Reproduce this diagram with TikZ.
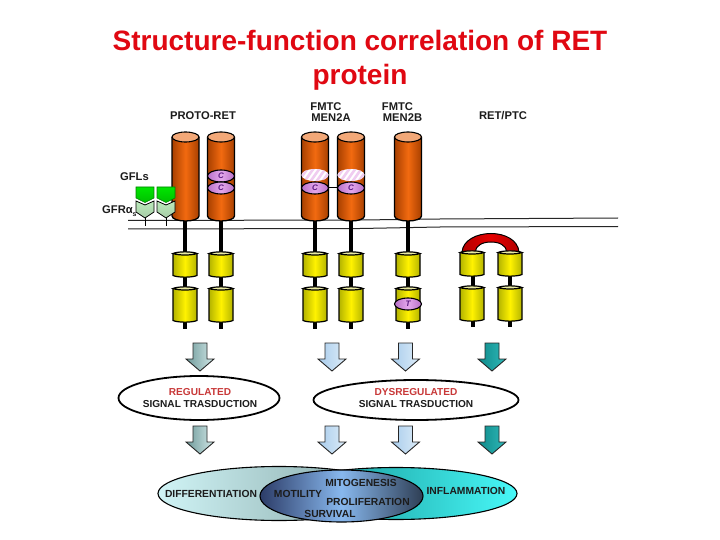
\documentclass[tikz,border=0pt]{standalone}
\usepackage{fontspec}
\setmainfont{Liberation Sans}
\usetikzlibrary{calc,shapes.geometric}
\definecolor{titlered}{HTML}{E00812}
\definecolor{lab}{HTML}{1C1C1C}
\definecolor{orD}{HTML}{A84000}
\definecolor{orM}{HTML}{F26A10}
\definecolor{orT}{HTML}{F2A878}
\definecolor{yeD}{HTML}{B4B400}
\definecolor{yeM}{HTML}{FFF200}
\definecolor{yeT}{HTML}{E8E8A0}
\definecolor{puD}{HTML}{B870C8}
\definecolor{puM}{HTML}{E4A8EC}
\definecolor{puL}{HTML}{5A1A80}
\definecolor{hatchc}{HTML}{F0CCF0}
\definecolor{arA}{HTML}{6F9A9A}\definecolor{arB}{HTML}{D2E8E8}
\definecolor{blA}{HTML}{A8CCEC}\definecolor{blB}{HTML}{DDECF8}
\definecolor{tlA}{HTML}{0E8A8A}\definecolor{tlB}{HTML}{2FB8B8}
\definecolor{lfA}{HTML}{D0F4F6}\definecolor{lfB}{HTML}{7F9F9F}
\definecolor{rtA}{HTML}{0E8888}\definecolor{rtB}{HTML}{48F8F8}
\definecolor{miA}{HTML}{2C3C68}\definecolor{miM}{HTML}{88B8EE}\definecolor{miB}{HTML}{2E3E54}
\definecolor{regred}{HTML}{C83838}
\tikzset{
  x=1pt,y=-1pt,
  lbl/.style={font=\bfseries\fontsize{10.3}{11}\selectfont,text=lab,inner sep=0pt},
  toplbl/.style={font=\bfseries\fontsize{11.2}{12}\selectfont,text=lab,inner sep=0pt},
  siglbl/.style={font=\bfseries\fontsize{10.1}{11}\selectfont,text=lab,inner sep=0pt},
  ovlbl/.style={font=\bfseries\itshape\fontsize{8}{9}\selectfont,text=puL,inner sep=0pt},
  titletext/.style={font=\bfseries\fontsize{28}{34}\selectfont,align=center,inner sep=0pt},
  stem/.style={line width=4pt,black},
  outl/.style={draw=black,line width=1.3pt},
  membrane/.style={line width=1pt,black!85},
  sigell/.style={draw=black,line width=1.8pt,fill=white,ellipse,inner sep=0pt},
  ellipse2/.style={ellipse,minimum width=27pt,minimum height=12pt,inner sep=0pt},
  captop/.style={ellipse,draw=black,line width=1.1pt,fill=orT,inner sep=0pt,minimum width=27pt,minimum height=10pt},
}
\newcommand{\orangecyl}[2]{%
  \path[left color=orD,right color=orD,middle color=orM]
    (#2-13.5,136) -- (#2-13.5,216) .. controls (#2-13.5,219) and (#2-7,221) .. (#2,221)
    .. controls (#2+7,221) and (#2+13.5,219) .. (#2+13.5,216) -- (#2+13.5,136) -- cycle;
  \draw[outl] (#2-13.5,137) -- (#2-13.5,216) .. controls (#2-13.5,219) and (#2-7,221) .. (#2,221)
    .. controls (#2+7,221) and (#2+13.5,219) .. (#2+13.5,216) -- (#2+13.5,137);
  \node[captop] (#1) at (#2,137) {};
}
\newcommand{\yellowcyl}[3]{%
  \path[left color=yeD,right color=yeD,middle color=yeM]
    (#1-12,#2+1.5) -- (#1-12,#3-1.5) .. controls (#1-7,#3+.7) and (#1+7,#3+.7) .. (#1+12,#3-1.5) -- (#1+12,#2+1.5) -- cycle;
  \draw[black,line width=1.2pt,fill=yeT] (#1-12,#2+1.5) .. controls (#1-7,#2-.7) and (#1+7,#2-.7) .. (#1+12,#2+1.5)
    .. controls (#1+7,#2+3.5) and (#1-7,#2+3.5) .. cycle;
  \draw[black,line width=1.2pt] (#1-12,#2+1.5) -- (#1-12,#3-1.5) .. controls (#1-7,#3+.7) and (#1+7,#3+.7) .. (#1+12,#3-1.5) -- (#1+12,#2+1.5);
}
\newcommand{\downarr}[4]{%
  \path[draw=black!85,line width=.9pt,left color=#3,right color=#4]
    (#1-7,#2) -- (#1+7,#2) -- (#1+7,#2+16) -- (#1+14,#2+16) -- (#1,#2+28) -- (#1-14,#2+16) -- (#1-7,#2+16) -- cycle;
}
\newcommand{\purpleoval}[4]{%
  \node[ellipse2,draw=black,line width=1.1pt,left color=puD,right color=puD,middle color=puM] (#1) at (#2,#3) {};
  \node[ovlbl] at (#2,#3) {#4};
}
\newcommand{\hatchoval}[3]{%
  \node[ellipse2,fill=white] (#1) at (#2,#3) {};
  \begin{scope}
    \clip (#1.center) ellipse[x radius=13.5,y radius=6];
    \foreach \dx in {-18,-12,...,18}{\draw[line width=2.6pt,hatchc] (#2+\dx-5,#3+7) -- (#2+\dx+5,#3-7);}
  \end{scope}
}
\newcommand{\gfl}[1]{%
  \draw[black,line width=.9pt] (#1,216) -- (#1,226);
  \path[draw=black,line width=.8pt,top color=green!22!white!85!gray,bottom color=green!40!black!35!white]
    (#1-9,201) -- (#1,205) -- (#1+9,201) -- (#1+9,212) -- (#1,218) -- (#1-9,212) -- cycle;
  \path[draw=green!50!black,line width=.6pt,top color=green!90!black,bottom color=green!75!black]
    (#1-9,187) -- (#1+9,187) -- (#1+9,198) -- (#1,202.5) -- (#1-9,198) -- cycle;
}
\begin{document}
\begin{tikzpicture}
\useasboundingbox (0,0) rectangle (720,540);
\fill[white] (0,0) rectangle (720,540);
\node[titletext,text=titlered] (title) at (360,60) {Structure-function correlation of RET\\protein};
\node[toplbl] (proto) at (203,116) {PROTO-RET};
\node[toplbl] (fa) at (326,107) {FMTC};
\node[toplbl] (ma) at (331,117.5) {MEN2A};
\node[toplbl] (fb) at (397.5,107) {FMTC};
\node[toplbl] (mb) at (402.5,117.5) {MEN2B};
\node[toplbl] (ptc) at (503,116) {RET/PTC};
\node[toplbl] (gfls) at (134.5,177) {GFLs};
\node[toplbl,anchor=west] (gfra) at (102,211) {GFRα\raisebox{-3pt}{\fontsize{7}{8}\selectfont s}};
\draw[membrane] (128,220.5) -- (360,220) -- (440,219) -- (618,218);
\draw[membrane] (128,229) -- (360,228.5) -- (440,227) -- (618,226.5);
\foreach \x in {185,221,315,351,408}{\draw[stem] (\x,220) -- (\x,329);}
\foreach \x in {472.5,510}{\draw[stem] (\x,276) -- (\x,327);}
\orangecyl{ca}{185.5}
\orangecyl{cb}{221}
\orangecyl{cc}{315}
\orangecyl{cd}{351}
\orangecyl{ce}{408}
\gfl{145}
\gfl{166}
\purpleoval{ob1}{221}{176}{C}
\purpleoval{ob2}{221}{188}{C}
\hatchoval{oc1}{315}{175}
\hatchoval{od1}{351}{175}
\purpleoval{oc2}{315}{188}{C}
\purpleoval{od2}{351}{188}{C}
\draw[black,line width=1pt] (oc2) -- (od2);
\path[draw=black,line width=1pt,left color=red!70!black,right color=red!70!black,middle color=red!90!black]
  (462,252) .. controls (463,240) and (477,233.5) .. (491,233.5) .. controls (505,233.5) and (518,240) .. (519,252)
  -- (507,252) .. controls (506,245) and (499,242) .. (491,242) .. controls (483,242) and (476,245) .. (475,252) -- cycle;
\foreach \x in {185,221,315,351,408}{\yellowcyl{\x}{252}{277}\yellowcyl{\x}{287}{322}}
\foreach \x in {472,510}{\yellowcyl{\x}{251}{276}\yellowcyl{\x}{286}{321}}
\purpleoval{ot}{408}{304}{T}
\foreach \y in {343,426}{
  \downarr{200}{\y}{arA}{arB}
  \downarr{332}{\y}{blA}{blB}
  \downarr{405.5}{\y}{blA}{blB}
  \downarr{492}{\y}{tlA}{tlB}
}
\node[sigell,minimum width=161pt,minimum height=44pt] (reg) at (199,398) {};
\node[sigell,minimum width=205pt,minimum height=40pt] (dys) at (416,400) {};
\node[siglbl,text=regred] at (200,392) {REGULATED};
\node[siglbl] at (200,404) {SIGNAL TRASDUCTION};
\node[siglbl,text=regred] at (416,392) {DYSREGULATED};
\node[siglbl] at (416,404) {SIGNAL TRASDUCTION};
\path[draw=black,line width=1.1pt,left color=lfA,right color=lfB] (279,493.5) ellipse[x radius=121,y radius=27];
\path[draw=black,line width=1.1pt,left color=rtA,right color=rtB] (396,493.5) ellipse[x radius=121,y radius=26];
\path[draw=black,line width=1.1pt,left color=miA,right color=miB,middle color=miM] (341.5,496) ellipse[x radius=81.5,y radius=26];
\node[lbl] (dif) at (211,494) {DIFFERENTIATION};
\node[lbl] (mot) at (298,494) {MOTILITY};
\node[lbl] (mit) at (361,483) {MITOGENESIS};
\node[lbl] (pro) at (368,502) {PROLIFERATION};
\node[lbl] (sur) at (330,514) {SURVIVAL};
\node[lbl] (inf) at (466,491) {INFLAMMATION};
\end{tikzpicture}
\end{document}
